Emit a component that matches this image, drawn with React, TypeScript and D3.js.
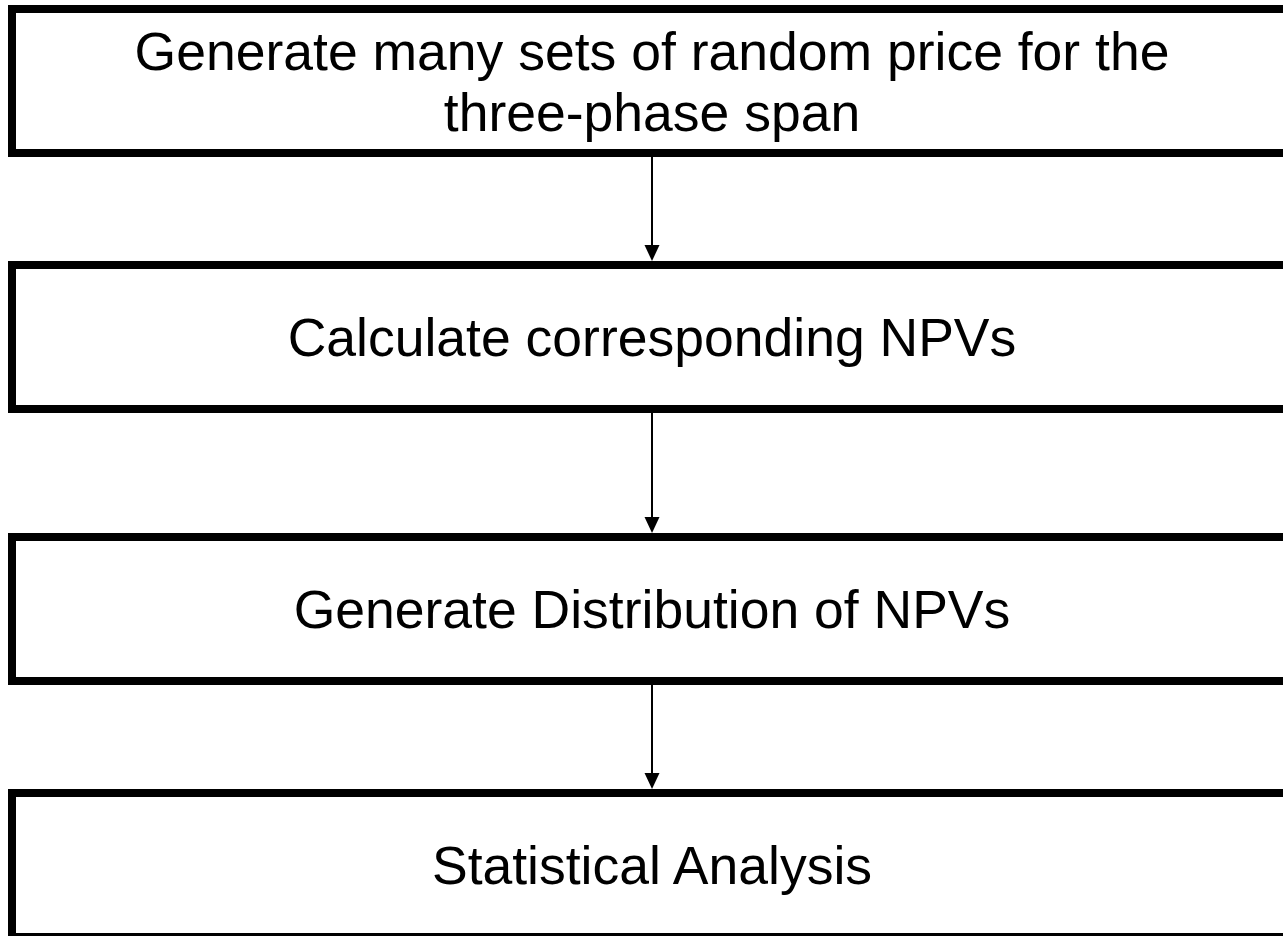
import { useMemo } from 'react';
import * as d3 from 'd3';

const WIDTH = 1283;
const HEIGHT = 936;

// flowchart steps (each entry = lines of text in one box)
const steps: string[][] = [
  ['Generate many sets of random price for the', 'three-phase span'],
  ['Calculate corresponding NPVs'],
  ['Generate Distribution of NPVs'],
  ['Statistical Analysis'],
];

// box top edges (stroke centre), in px
const boxTops = [9, 265, 537, 793];
const BOX_H = 144;
const BOX_LEFT = 12;
const BOX_RIGHT = 1292;
const CENTER_X = 652;
const STROKE = 8;
const FONT_SIZE = 53.5;
const LINE_GAP = 61;

export default function App() {
  const line = useMemo(() => d3.line<[number, number]>(), []);

  return (
    <div style={{ position: 'fixed', left: 0, top: 0, width: WIDTH, height: HEIGHT, background: '#fff' }}>
      <svg width={WIDTH} height={HEIGHT} style={{ display: 'block' }}>
        {steps.map((lines, i) => {
          const top = boxTops[i];
          const cy = top + BOX_H / 2;
          const first = cy - ((lines.length - 1) * LINE_GAP) / 2;
          return (
            <g key={i}>
              <rect
                x={BOX_LEFT}
                y={top}
                width={BOX_RIGHT - BOX_LEFT}
                height={BOX_H}
                fill="#fff"
                stroke="#000"
                strokeWidth={STROKE}
              />
              {lines.map((t, j) => (
                <text
                  key={j}
                  x={CENTER_X}
                  y={first + j * LINE_GAP + FONT_SIZE * 0.358}
                  textAnchor="middle"
                  fontFamily="'Liberation Sans', Arial, sans-serif"
                  fontSize={FONT_SIZE}
                  fill="#000"
                >
                  {t}
                </text>
              ))}
            </g>
          );
        })}
        {boxTops.slice(1).map((nextTop, i) => {
          const y0 = boxTops[i] + BOX_H + STROKE / 2;
          const tip = nextTop - STROKE / 2;
          const headH = 16;
          return (
            <g key={`a${i}`}>
              <path
                d={line([[CENTER_X, y0], [CENTER_X, tip - headH + 1]]) ?? ''}
                stroke="#000"
                strokeWidth={2}
                fill="none"
              />
              <path
                d={(line([[CENTER_X - 7.5, tip - headH], [CENTER_X + 7.5, tip - headH], [CENTER_X, tip]]) ?? '') + 'Z'}
                fill="#000"
              />
            </g>
          );
        })}
      </svg>
    </div>
  );
}
